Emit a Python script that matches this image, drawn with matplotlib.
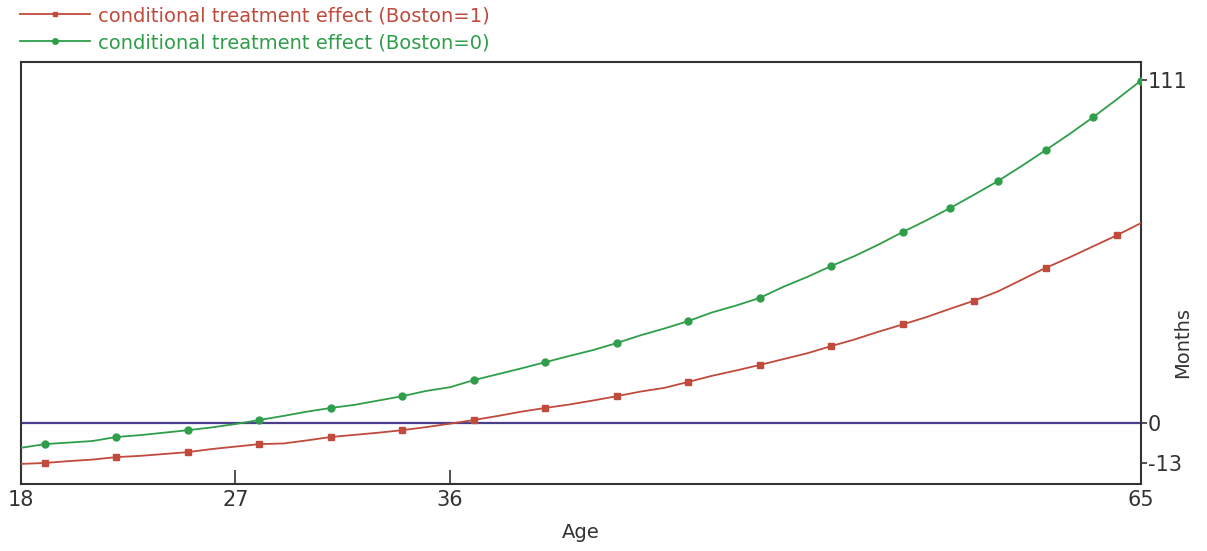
import numpy as np
import matplotlib
matplotlib.use("Agg")
import matplotlib.pyplot as plt
from matplotlib.lines import Line2D

ages = np.arange(18, 66)

# conditional treatment effect, months
effect_boston0 = [-8.0, -6.8, -6.3, -5.8, -4.5, -3.9, -3.1, -2.3, -1.4, -0.3,
                  1.0, 2.3, 3.7, 4.9, 5.9, 7.3, 8.7, 10.4, 11.6, 13.9,
                  15.8, 17.7, 19.7, 21.7, 23.6, 25.9, 28.4, 30.6, 33.0, 35.8,
                  38.0, 40.5, 44.1, 47.3, 50.8, 54.1, 57.8, 61.8, 65.6, 69.6,
                  73.9, 78.3, 83.2, 88.3, 93.5, 99.0, 104.8, 110.8]
effect_boston1 = [-13.2, -12.9, -12.3, -11.8, -11.0, -10.6, -10.0, -9.4, -8.4, -7.6,
                  -6.8, -6.6, -5.6, -4.5, -3.8, -3.1, -2.3, -1.3, -0.2, 1.0,
                  2.3, 3.7, 4.9, 6.0, 7.3, 8.7, 10.2, 11.4, 13.3, 15.3,
                  17.0, 18.8, 20.7, 22.6, 24.9, 27.1, 29.6, 31.9, 34.3, 37.0,
                  39.6, 42.6, 46.4, 50.2, 53.6, 57.2, 60.8, 64.7]

marker_ages0 = [19, 22, 25, 28, 31, 34, 37, 40, 43, 46, 49, 52, 55, 57, 59, 61, 63, 65]
marker_ages1 = [19, 22, 25, 28, 31, 34, 37, 40, 43, 46, 49, 52, 55, 58, 61, 64]

labels = ['conditional treatment effect (Boston=1)', 'conditional treatment effect (Boston=0)']

red = '#c04a3c'
green = '#2f9e4a'
navy = '#4a3f8c'
ink = '#333333'

plt.rcParams['font.family'] = 'DejaVu Sans'

fig = plt.figure(figsize=(12.07, 5.51), dpi=100)
ax = fig.add_axes([21 / 1207, 67 / 551, 1120 / 1207, 422 / 551])

idx0 = [int(a - 18) for a in marker_ages0]
idx1 = [int(a - 18) for a in marker_ages1]

ax.axhline(0, color=navy, lw=1.6, zorder=1)
ax.plot(ages, effect_boston1, color=red, lw=1.3, marker='s', ms=4,
        markevery=idx1, zorder=3)
ax.plot(ages, effect_boston0, color=green, lw=1.3, marker='o', ms=5,
        markevery=idx0, zorder=3)

ax.set_xlim(18, 65)
ax.set_ylim(-19.7, 116.8)

ax.set_xticks([18, 27, 36, 65])
ax.set_xticklabels(['18', '27', '36', '65'])
ax.tick_params(axis='x', direction='in', length=10, width=1.2, labelsize=15,
               colors=ink, pad=4)

ax.yaxis.tick_right()
ax.set_yticks([111, 0, -13])
ax.set_yticklabels(['111', '0', '-13'])
ax.tick_params(axis='y', direction='out', length=4, width=1.2, labelsize=15,
               colors=ink, pad=1)

for s in ax.spines.values():
    s.set_color(ink)
    s.set_linewidth(1.5)

ax.set_xlabel('Age', fontsize=14, color=ink, labelpad=10)
fig.text(1183 / 1207, 1 - 343 / 551, 'Months', rotation=90, ha='center',
         va='center', fontsize=14, color=ink)

handles = [
    Line2D([0, 1, 2, 3, 4], [0, 0, 0, 0, 0], color=red, lw=1.3, marker='s',
           ms=3, markevery=[1, 2, 3]),
    Line2D([0, 1, 2, 3, 4], [0, 0, 0, 0, 0], color=green, lw=1.3, marker='o',
           ms=4, markevery=[1, 2, 3]),
]
fig.legend(handles, labels, loc='upper left', bbox_to_anchor=(20 / 1207, 1 - 6 / 551),
           frameon=False, fontsize=14, handlelength=3.6, handletextpad=0.4,
           labelspacing=0.42, labelcolor='linecolor', borderaxespad=0,
           borderpad=0)

fig.savefig('out.png', dpi=100)
